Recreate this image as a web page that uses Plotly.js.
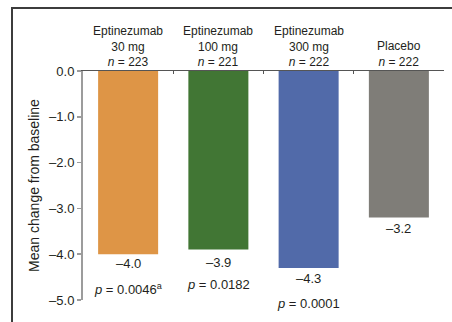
<!DOCTYPE html>
<html>
<head>
<meta charset="utf-8">
<script src="https://cdn.plot.ly/plotly-3.0.1.min.js"></script>
<style>
  html, body { margin: 0; padding: 0; background: #fff; overflow: hidden; }
  #chart { position: absolute; left: 0; top: 0; width: 452px; height: 322px; }
  #frame { position: absolute; left: 11px; top: 7px; width: 460px; height: 330px;
           border-left: 2px solid #3c3c3c; border-top: 2px solid #3c3c3c; pointer-events: none; }
</style>
</head>
<body>
<div id="chart"></div>
<div id="frame"></div>
<script>
// ---- data ----
const groups = ["Eptinezumab<br>30 mg", "Eptinezumab<br>100 mg", "Eptinezumab<br>300 mg", "Placebo"];
const nValues = [223, 221, 222, 222];
const meanChange = [-4.0, -3.9, -4.3, -3.2];
const pValues = ["0.0046", "0.0182", "0.0001", null];
const pNotes = ["a", "", "", ""];
const yTicks = [0, -1, -2, -3, -4, -5];

// ---- style ----
const barColors = ["#DE9546", "#417634", "#516AA9", "#7F7D78"];
const valueShift = [-9, -13, -11, -11];
const pShift = [-35, -35, -36, -35];
const textColor = "#231f20";
const font = "Liberation Sans, Arial, sans-serif";

const cats = groups.map((g, i) => g + "<br><i>n</i> = " + nValues[i]);
const fmt = v => (v < 0 ? "\u2013" : "") + Math.abs(v).toFixed(1);

const trace = {
  type: "bar",
  x: cats,
  y: meanChange,
  marker: { color: barColors },
  hoverinfo: "none"
};

const annotations = [];
cats.forEach((c, i) => {
  // category header above the top axis
  annotations.push({
    x: c, y: 1, xref: "x", yref: "paper",
    text: c, showarrow: false, yanchor: "bottom", yshift: 0,
    font: { family: font, size: 12, color: textColor }
  });
  annotations.push({
    x: c, y: meanChange[i], xref: "x", yref: "y",
    text: fmt(meanChange[i]), showarrow: false,
    yanchor: "middle", yshift: valueShift[i],
    font: { family: font, size: 13, color: textColor }
  });
  if (pValues[i]) {
    annotations.push({
      x: c, y: meanChange[i], xref: "x", yref: "y",
      text: "<i>p</i> = " + pValues[i] + (pNotes[i] ? "<sup>" + pNotes[i] + "</sup>" : ""),
      showarrow: false, yanchor: "middle", yshift: pShift[i],
      font: { family: font, size: 13, color: textColor }
    });
  }
});

const layout = {
  width: 452, height: 322,
  margin: { l: 83, r: 8, t: 71, b: 22, pad: 0 },
  paper_bgcolor: "#fff", plot_bgcolor: "#fff",
  showlegend: false,
  bargap: 0.335,
  font: { family: font, size: 12, color: textColor },
  xaxis: {
    type: "category", side: "top",
    showline: true, linecolor: "#555", linewidth: 1,
    ticks: "inside", tickson: "boundaries", ticklen: 3, tickcolor: "#555",
    showticklabels: false,
    showgrid: false, zeroline: false,
    fixedrange: true
  },
  yaxis: {
    range: [-5, 0], tickvals: yTicks, ticktext: yTicks.map(fmt),
    showline: true, linecolor: "#9c9c9c", linewidth: 2,
    ticks: "outside", ticklen: 4, tickcolor: "#9c9c9c", tickwidth: 1.5,
    showgrid: false, zeroline: false,
    tickfont: { family: font, size: 13, color: textColor },
    title: { text: "Mean change from baseline", font: { family: font, size: 14, color: textColor }, standoff: 6 },
    fixedrange: true
  },
  annotations: annotations
};

Plotly.newPlot("chart", [trace], layout, { staticPlot: true, displayModeBar: false });
</script>
</body>
</html>
